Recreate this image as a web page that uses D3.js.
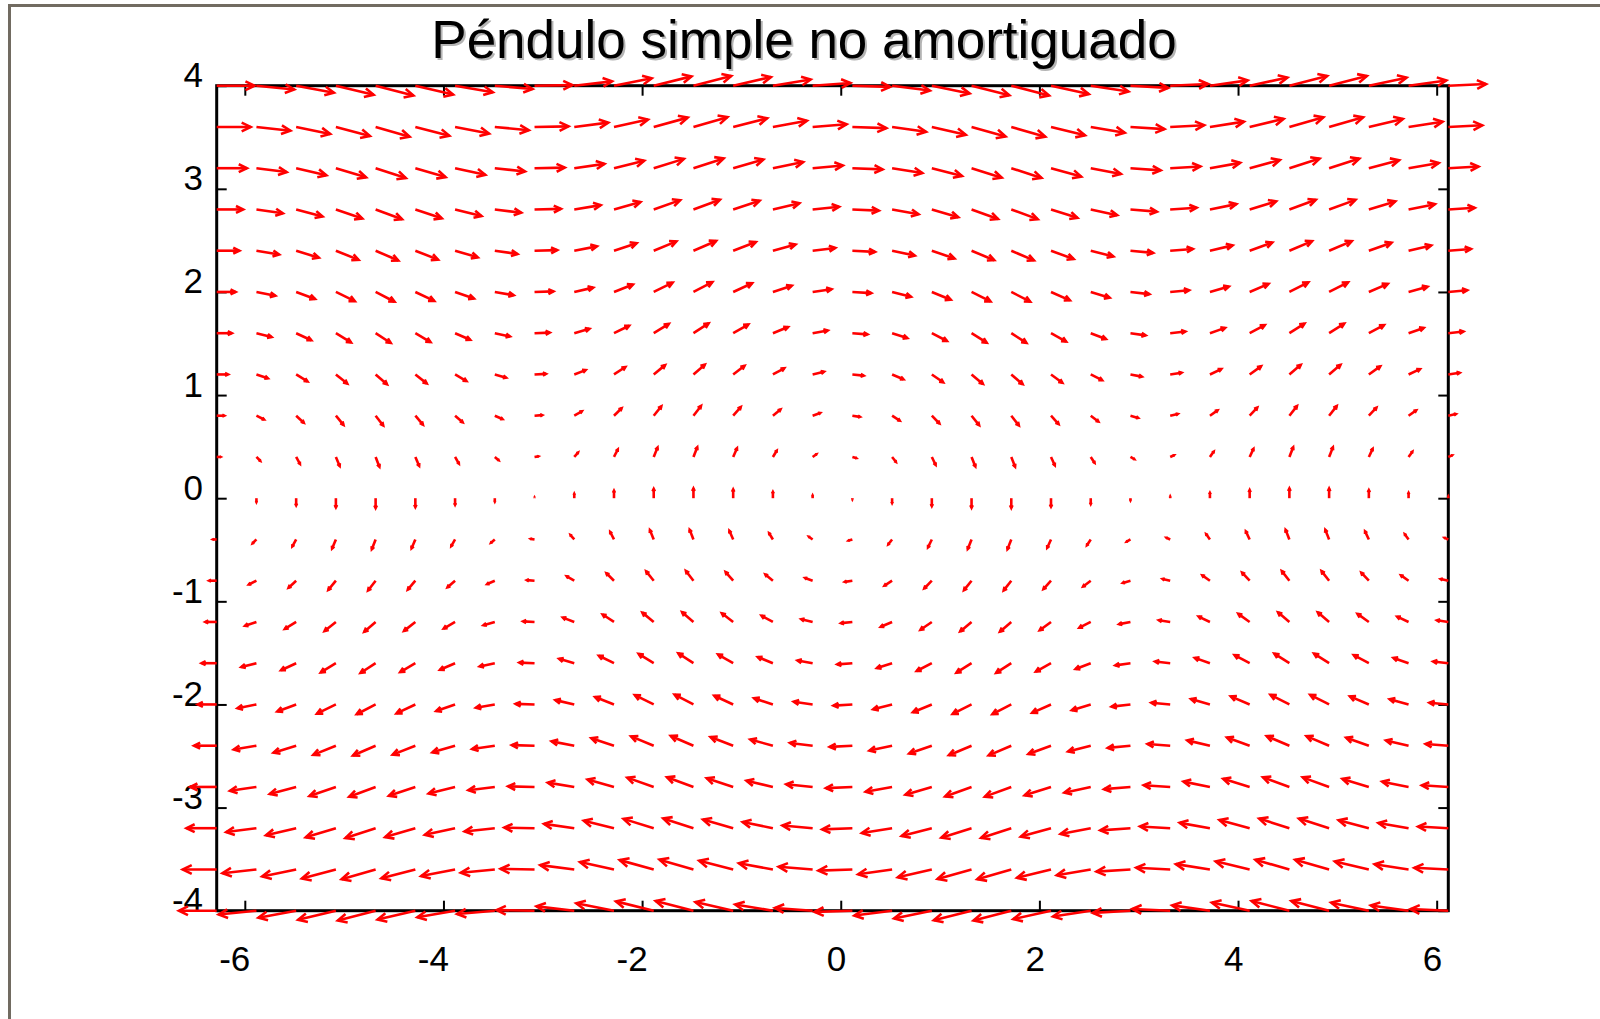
<!DOCTYPE html>
<html>
<head>
<meta charset="utf-8">
<script src="https://cdn.jsdelivr.net/npm/d3@7"></script>
<style>
  html, body { margin: 0; padding: 0; background: #ffffff; }
  svg { display: block; }
</style>
</head>
<body>
<svg id="chart" width="1600" height="1019"></svg>
<script>
// ---- Data ----
const titleText = "Péndulo simple no amortiguado";
// grid of phase-space points (theta, omega)
const xGrid = [-6.283, -5.883, -5.483, -5.083, -4.683, -4.283, -3.883, -3.483,
               -3.083, -2.683, -2.283, -1.883, -1.483, -1.083, -0.683, -0.283,
                0.117,  0.517,  0.917,  1.317,  1.717,  2.117,  2.517,  2.917,
                3.317,  3.717,  4.117,  4.517,  4.917,  5.317,  5.717,  6.117];
const yGrid = [-4.0, -3.6, -3.2, -2.8, -2.4, -2.0, -1.6, -1.2, -0.8, -0.4, 0.0,
                0.4,  0.8,  1.2,  1.6,  2.0,  2.4,  2.8,  3.2,  3.6,  4.0];
// horizontal component of each arrow, one value per row (theta' = omega)
const uByRow = [-4.0, -3.6, -3.2, -2.8, -2.4, -2.0, -1.6, -1.2, -0.8, -0.4, 0.0,
                 0.4,  0.8,  1.2,  1.6,  2.0,  2.4,  2.8,  3.2,  3.6,  4.0];
// vertical component of each arrow, one value per column (omega' = -sin theta)
const vByColumn = [0.000, -0.389, -0.717, -0.932, -1.000, -0.909, -0.675, -0.335,
                   0.058,  0.443,  0.757,  0.952,  0.996,  0.883,  0.631,  0.279,
                  -0.117, -0.494, -0.794, -0.968, -0.989, -0.855, -0.585, -0.223,
                   0.174,  0.544,  0.828,  0.981,  0.979,  0.820,  0.537,  0.166];
const xTicks = [-6, -4, -2, 0, 2, 4, 6];
const yTicks = [-4, -3, -2, -1, 0, 1, 2, 3, 4];
const arrowScale = 0.095; // data units of arrow per unit of field

// ---- Layout ----
const svg = d3.select("#chart");
const pL = 216.7, pR = 1448.3, pT = 85.7, pB = 910.7;
const x = d3.scaleLinear().domain([xGrid[0], xGrid[xGrid.length - 1]]).range([pL, pR]);
const y = d3.scaleLinear().domain([-4, 4]).range([pB, pT]);
const FONT = "'Liberation Sans', Arial, Helvetica, sans-serif";
const fmt = d => String(d);

// figure border (left and top)
svg.append("line").attr("x1", 9.5).attr("y1", 4).attr("x2", 9.5).attr("y2", 1019)
  .attr("stroke", "#716b61").attr("stroke-width", 3);
svg.append("line").attr("x1", 8).attr("y1", 5.5).attr("x2", 1600).attr("y2", 5.5)
  .attr("stroke", "#716b61").attr("stroke-width", 3);

// title with shadow
const tg = svg.append("g").attr("font-family", FONT)
  .attr("font-size", 53).attr("text-anchor", "middle");
tg.append("text").attr("x", 806).attr("y", 60).attr("fill", "#b4b4b4").text(titleText);
tg.append("text").attr("x", 804).attr("y", 58).attr("fill", "#000000").text(titleText);

// axes box
const axG = svg.append("g");
axG.append("rect").attr("x", pL).attr("y", pT).attr("width", pR - pL).attr("height", pB - pT)
  .attr("fill", "none").attr("stroke", "#000").attr("stroke-width", 3);

const tickLen = 10;
function styleAxis(g) {
  g.select(".domain").remove();
  g.selectAll(".tick line").attr("stroke", "#000").attr("stroke-width", 2);
  g.selectAll(".tick text").attr("font-family", FONT).attr("font-size", 35).attr("fill", "#000");
}
// bottom axis: inward ticks + labels
const gxB = axG.append("g").attr("transform", `translate(0,${pB})`)
  .call(d3.axisBottom(x).tickValues(xTicks).tickSizeInner(-tickLen).tickSizeOuter(0).tickFormat(fmt));
styleAxis(gxB);
gxB.selectAll(".tick text").attr("x", 5).attr("y", 60).attr("dy", null).attr("text-anchor", "end");
// top axis: inward ticks only
const gxT = axG.append("g").attr("transform", `translate(0,${pT})`)
  .call(d3.axisTop(x).tickValues(xTicks).tickSizeInner(-tickLen).tickSizeOuter(0).tickFormat(""));
styleAxis(gxT);
// left axis: inward ticks + labels
const gyL = axG.append("g").attr("transform", `translate(${pL},0)`)
  .call(d3.axisLeft(y).tickValues(yTicks).tickSizeInner(-tickLen).tickSizeOuter(0).tickFormat(fmt));
styleAxis(gyL);
gyL.selectAll(".tick text").attr("x", 203 - pL).attr("y", 1).attr("dy", null).attr("text-anchor", "end");
// right axis: inward ticks only
const gyR = axG.append("g").attr("transform", `translate(${pR},0)`)
  .call(d3.axisRight(y).tickValues(yTicks).tickSizeInner(-tickLen).tickSizeOuter(0).tickFormat(""));
styleAxis(gyR);

// ---- arrows ----
const arrows = [];
yGrid.forEach((yv, j) => {
  xGrid.forEach((xv, i) => {
    arrows.push({ x0: xv, y0: yv, u: uByRow[j], v: vByColumn[i] });
  });
});
const ag = svg.append("g").attr("stroke", "#ff0000").attr("fill", "none")
  .attr("stroke-width", 2.6).attr("stroke-linecap", "butt").attr("stroke-linejoin", "miter");
arrows.forEach(a => {
  const px0 = x(a.x0), py0 = y(a.y0);
  const px1 = x(a.x0 + arrowScale * a.u), py1 = y(a.y0 + arrowScale * a.v);
  const dx = px1 - px0, dy = py1 - py0;
  const len = Math.hypot(dx, dy);
  if (len < 0.5) return;
  ag.append("line").attr("x1", px0).attr("y1", py0).attr("x2", px1).attr("y2", py1);
  const hl = Math.min(0.3 * len, 10);
  const ang = Math.atan2(dy, dx);
  const spread = 0.45;
  const hx1 = px1 - hl * Math.cos(ang - spread), hy1 = py1 - hl * Math.sin(ang - spread);
  const hx2 = px1 - hl * Math.cos(ang + spread), hy2 = py1 - hl * Math.sin(ang + spread);
  ag.append("path").attr("d", `M${hx1},${hy1}L${px1},${py1}L${hx2},${hy2}`);
});
</script>
</body>
</html>
